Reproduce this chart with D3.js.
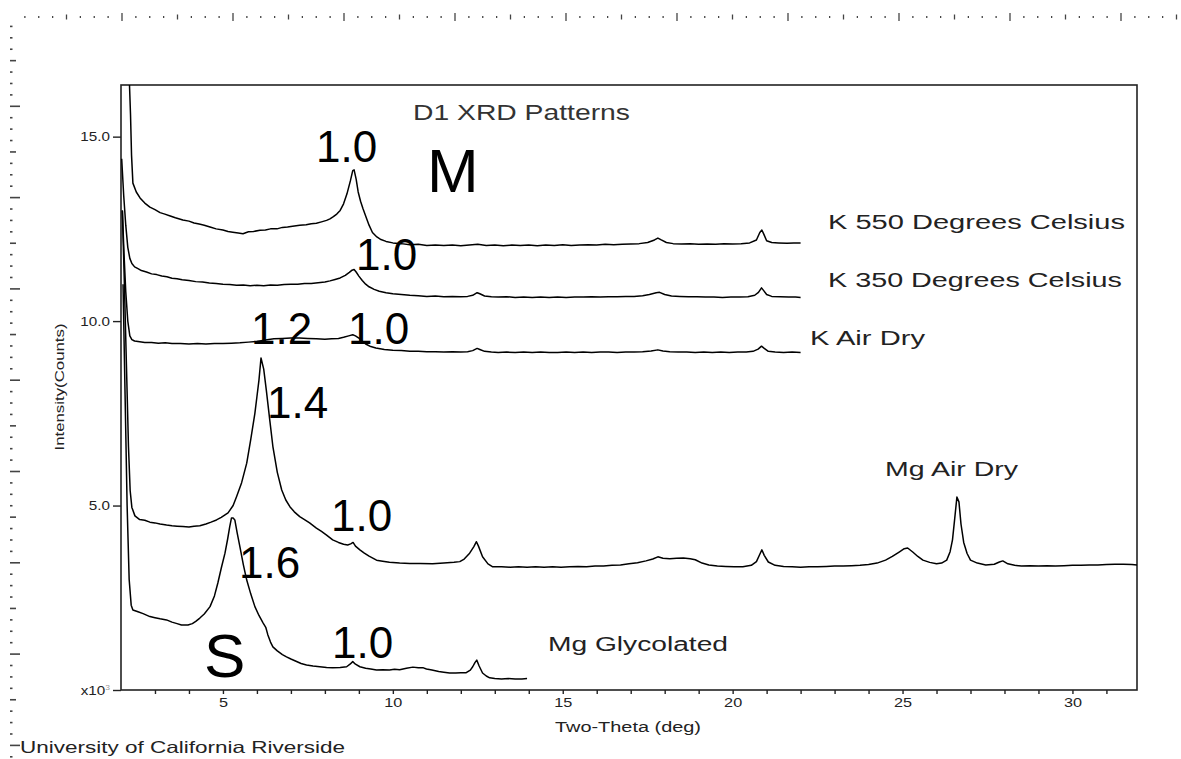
<!DOCTYPE html>
<html>
<head>
<meta charset="utf-8">
<script src="https://cdn.jsdelivr.net/npm/d3@7"></script>
<style>
  body { margin: 0; background: #fff; }
  svg { display: block; font-family: Arial, "Liberation Sans", sans-serif; }
</style>
</head>
<body>
<script>
// --- data: [two-theta (deg), intensity (counts x 10^3)] ---
const k550 = [[2.20,18.0],[2.25,16.4],[2.28,15.6],[2.31,14.5],[2.35,13.74],[2.45,13.5],[2.56,13.34],[2.7,13.2],[2.85,13.09],[3.0,13.02],[3.15,12.94],[3.29,12.9],[3.45,12.85],[3.6,12.8],[3.82,12.74],[4.0,12.71],[4.15,12.66],[4.3,12.63],[4.45,12.6],[4.62,12.55],[4.8,12.5],[5.0,12.47],[5.15,12.43],[5.29,12.41],[5.45,12.39],[5.59,12.37],[5.75,12.42],[5.9,12.43],[6.09,12.46],[6.25,12.47],[6.4,12.5],[6.59,12.5],[6.75,12.54],[6.9,12.55],[7.05,12.57],[7.26,12.6],[7.45,12.61],[7.6,12.64],[7.75,12.65],[7.9,12.69],[8.05,12.73],[8.15,12.77],[8.25,12.83],[8.35,12.9],[8.45,13.0],[8.55,13.18],[8.65,13.45],[8.75,13.8],[8.82,14.08],[8.86,14.1],[8.92,13.85],[8.98,13.5],[9.05,13.25],[9.12,13.05],[9.2,12.85],[9.3,12.6],[9.4,12.4],[9.53,12.28],[9.65,12.21],[9.8,12.16],[10.0,12.12],[10.25,12.1],[10.5,12.07],[10.75,12.08],[11.0,12.05],[11.25,12.06],[11.5,12.05],[11.75,12.06],[12.0,12.04],[12.25,12.06],[12.5,12.08],[12.75,12.05],[13.0,12.06],[13.25,12.04],[13.5,12.06],[13.75,12.05],[14.0,12.06],[14.25,12.04],[14.5,12.06],[14.75,12.05],[15.0,12.07],[15.25,12.05],[15.5,12.06],[15.75,12.07],[16.0,12.06],[16.25,12.08],[16.5,12.07],[16.75,12.08],[17.0,12.09],[17.25,12.1],[17.5,12.13],[17.7,12.2],[17.8,12.25],[17.9,12.2],[18.05,12.13],[18.25,12.1],[18.5,12.09],[18.75,12.1],[19.0,12.08],[19.25,12.09],[19.5,12.08],[19.75,12.1],[20.0,12.09],[20.25,12.1],[20.5,12.12],[20.7,12.2],[20.8,12.4],[20.86,12.47],[20.92,12.35],[21.0,12.18],[21.15,12.13],[21.35,12.12],[21.6,12.11],[21.8,12.12],[22.0,12.12]];

const k350 = [[2.02,14.4],[2.08,13.4],[2.14,12.6],[2.2,12.0],[2.26,11.7],[2.32,11.56],[2.4,11.47],[2.5,11.42],[2.6,11.37],[2.75,11.33],[2.9,11.28],[3.05,11.26],[3.2,11.22],[3.35,11.2],[3.5,11.16],[3.65,11.15],[3.8,11.12],[4.0,11.1],[4.2,11.07],[4.4,11.06],[4.6,11.03],[4.8,11.02],[5.0,11.0],[5.2,10.99],[5.4,10.97],[5.6,10.98],[5.8,10.96],[6.0,10.97],[6.2,10.96],[6.4,10.98],[6.6,10.97],[6.8,10.99],[7.0,11.0],[7.2,11.0],[7.4,11.02],[7.6,11.02],[7.8,11.04],[8.0,11.06],[8.15,11.09],[8.3,11.13],[8.45,11.17],[8.6,11.24],[8.72,11.32],[8.8,11.38],[8.86,11.4],[8.92,11.33],[9.0,11.22],[9.1,11.1],[9.2,11.0],[9.3,10.93],[9.45,10.86],[9.6,10.81],[9.8,10.77],[10.0,10.74],[10.25,10.72],[10.5,10.7],[10.75,10.69],[11.0,10.67],[11.25,10.68],[11.5,10.66],[11.75,10.67],[12.0,10.66],[12.2,10.67],[12.35,10.7],[12.48,10.77],[12.56,10.74],[12.7,10.68],[12.9,10.66],[13.1,10.65],[13.35,10.66],[13.6,10.64],[13.85,10.65],[14.1,10.64],[14.35,10.65],[14.6,10.64],[14.85,10.65],[15.1,10.64],[15.35,10.65],[15.6,10.65],[15.85,10.66],[16.1,10.65],[16.35,10.66],[16.6,10.66],[16.85,10.67],[17.1,10.67],[17.35,10.69],[17.55,10.72],[17.75,10.77],[17.85,10.78],[18.0,10.72],[18.2,10.68],[18.45,10.67],[18.7,10.66],[18.95,10.66],[19.2,10.65],[19.45,10.65],[19.7,10.64],[19.95,10.65],[20.2,10.65],[20.45,10.66],[20.65,10.7],[20.76,10.78],[20.85,10.9],[20.92,10.82],[21.0,10.72],[21.15,10.67],[21.4,10.66],[21.65,10.65],[21.85,10.65],[22.0,10.64]];

const kAirDry = [[2.04,13.0],[2.09,11.8],[2.14,10.8],[2.2,10.0],[2.26,9.6],[2.32,9.5],[2.4,9.46],[2.55,9.44],[2.7,9.42],[2.9,9.42],[3.1,9.4],[3.3,9.41],[3.5,9.39],[3.75,9.39],[4.0,9.38],[4.25,9.39],[4.5,9.38],[4.75,9.39],[5.0,9.39],[5.25,9.4],[5.5,9.41],[5.75,9.43],[6.0,9.45],[6.25,9.49],[6.5,9.52],[6.75,9.53],[7.0,9.54],[7.25,9.54],[7.5,9.53],[7.75,9.52],[8.0,9.51],[8.2,9.52],[8.4,9.53],[8.55,9.56],[8.7,9.6],[8.82,9.63],[8.9,9.6],[9.0,9.54],[9.1,9.45],[9.2,9.38],[9.35,9.31],[9.5,9.27],[9.75,9.23],[10.0,9.21],[10.25,9.2],[10.5,9.18],[10.75,9.18],[11.0,9.17],[11.25,9.17],[11.5,9.16],[11.75,9.17],[12.0,9.16],[12.2,9.17],[12.35,9.2],[12.48,9.26],[12.56,9.23],[12.7,9.18],[12.9,9.16],[13.1,9.15],[13.35,9.16],[13.6,9.15],[13.85,9.16],[14.1,9.15],[14.35,9.16],[14.6,9.15],[14.85,9.15],[15.1,9.16],[15.35,9.15],[15.6,9.16],[15.85,9.15],[16.1,9.16],[16.35,9.16],[16.6,9.15],[16.85,9.16],[17.1,9.16],[17.35,9.17],[17.6,9.19],[17.8,9.22],[17.95,9.19],[18.15,9.17],[18.4,9.16],[18.65,9.16],[18.9,9.15],[19.15,9.16],[19.4,9.15],[19.65,9.16],[19.9,9.15],[20.15,9.16],[20.4,9.16],[20.6,9.18],[20.75,9.24],[20.85,9.32],[20.93,9.26],[21.05,9.18],[21.25,9.16],[21.5,9.15],[21.75,9.16],[22.0,9.15]];

const mgAirDry = [[2.04,13.0],[2.1,11.0],[2.16,8.8],[2.22,6.6],[2.27,5.4],[2.32,4.95],[2.41,4.72],[2.55,4.62],[2.7,4.6],[2.85,4.55],[3.0,4.53],[3.15,4.5],[3.34,4.47],[3.5,4.45],[3.65,4.44],[3.82,4.43],[4.0,4.42],[4.15,4.44],[4.32,4.45],[4.5,4.5],[4.65,4.55],[4.81,4.61],[4.95,4.68],[5.05,4.74],[5.15,4.8],[5.3,5.0],[5.4,5.24],[5.55,5.62],[5.7,6.15],[5.82,6.8],[5.94,7.5],[6.0,7.95],[6.06,8.4],[6.12,9.0],[6.2,8.7],[6.28,8.1],[6.38,7.3],[6.47,6.6],[6.6,5.9],[6.73,5.42],[6.85,5.15],[6.97,4.97],[7.1,4.83],[7.26,4.7],[7.4,4.62],[7.55,4.53],[7.75,4.39],[7.9,4.3],[8.05,4.2],[8.23,4.07],[8.4,4.0],[8.55,3.95],[8.67,3.93],[8.76,3.96],[8.83,4.0],[8.9,3.9],[9.03,3.8],[9.15,3.72],[9.3,3.63],[9.52,3.52],[9.7,3.49],[9.9,3.46],[10.2,3.44],[10.5,3.43],[10.8,3.43],[11.17,3.42],[11.5,3.44],[11.8,3.46],[11.97,3.48],[12.1,3.55],[12.26,3.71],[12.38,3.88],[12.46,4.02],[12.52,3.9],[12.64,3.61],[12.8,3.42],[12.94,3.34],[13.2,3.34],[13.45,3.33],[13.7,3.34],[13.95,3.33],[14.2,3.34],[14.45,3.33],[14.7,3.34],[14.95,3.33],[15.2,3.34],[15.45,3.35],[15.7,3.34],[15.95,3.36],[16.2,3.36],[16.45,3.38],[16.7,3.39],[16.95,3.42],[17.2,3.45],[17.45,3.5],[17.65,3.55],[17.8,3.61],[17.95,3.57],[18.15,3.56],[18.35,3.57],[18.55,3.58],[18.75,3.56],[18.9,3.53],[19.1,3.44],[19.3,3.39],[19.55,3.36],[19.8,3.35],[20.05,3.34],[20.3,3.34],[20.55,3.38],[20.7,3.48],[20.8,3.68],[20.86,3.8],[20.93,3.65],[21.05,3.47],[21.25,3.38],[21.5,3.35],[21.75,3.34],[22.0,3.33],[22.25,3.34],[22.5,3.34],[22.75,3.35],[23.0,3.36],[23.25,3.36],[23.5,3.37],[23.75,3.38],[24.0,3.4],[24.25,3.44],[24.5,3.52],[24.7,3.62],[24.9,3.74],[25.05,3.83],[25.15,3.85],[25.3,3.74],[25.45,3.62],[25.6,3.52],[25.8,3.46],[26.0,3.42],[26.15,3.44],[26.3,3.52],[26.4,3.75],[26.47,4.07],[26.53,4.6],[26.6,5.23],[26.66,5.1],[26.72,4.5],[26.8,4.0],[26.9,3.7],[27.0,3.52],[27.2,3.44],[27.45,3.39],[27.7,3.41],[27.85,3.47],[27.95,3.5],[28.1,3.42],[28.3,3.38],[28.5,3.36],[28.75,3.37],[29.0,3.36],[29.25,3.37],[29.5,3.36],[29.75,3.37],[30.0,3.38],[30.25,3.38],[30.5,3.39],[30.75,3.39],[31.0,3.4],[31.25,3.41],[31.5,3.41],[31.75,3.4],[31.9,3.39]];

const mgGlycolated = [[2.06,11.0],[2.12,8.0],[2.18,5.0],[2.24,3.0],[2.3,2.3],[2.35,2.17],[2.5,2.12],[2.65,2.07],[2.85,1.99],[3.0,1.96],[3.15,1.93],[3.34,1.9],[3.5,1.84],[3.65,1.8],[3.78,1.76],[3.97,1.76],[4.1,1.8],[4.2,1.86],[4.32,1.95],[4.45,2.06],[4.62,2.26],[4.75,2.55],[4.85,2.9],[4.95,3.3],[5.06,3.71],[5.14,4.1],[5.2,4.43],[5.25,4.66],[5.3,4.66],[5.35,4.61],[5.42,4.25],[5.5,3.88],[5.6,3.4],[5.7,2.98],[5.82,2.6],[5.94,2.26],[6.06,2.02],[6.18,1.82],[6.26,1.7],[6.32,1.5],[6.4,1.3],[6.47,1.17],[6.6,1.06],[6.75,0.96],[6.87,0.9],[7.0,0.84],[7.15,0.78],[7.3,0.72],[7.46,0.68],[7.65,0.65],[7.85,0.63],[8.05,0.61],[8.23,0.6],[8.45,0.61],[8.64,0.63],[8.74,0.7],[8.82,0.77],[8.9,0.7],[9.03,0.63],[9.2,0.59],[9.35,0.57],[9.52,0.54],[9.7,0.55],[9.9,0.54],[10.05,0.56],[10.2,0.55],[10.4,0.59],[10.59,0.62],[10.75,0.6],[10.9,0.6],[10.99,0.57],[11.15,0.54],[11.35,0.5],[11.5,0.48],[11.67,0.46],[11.85,0.46],[12.0,0.47],[12.16,0.47],[12.28,0.54],[12.35,0.63],[12.42,0.75],[12.47,0.81],[12.54,0.65],[12.64,0.46],[12.75,0.38],[12.85,0.33],[13.0,0.31],[13.2,0.3],[13.4,0.31],[13.6,0.3],[13.8,0.3],[13.95,0.31]];

const series = [k550, k350, kAirDry, mgAirDry, mgGlycolated];
const seriesNames = ["K 550 Degrees Celsius", "K 350 Degrees Celsius", "K Air Dry", "Mg Air Dry", "Mg Glycolated"];

const xTicks = d3.range(3, 32);           // a tick every degree
const xLabelTicks = [5, 10, 15, 20, 25, 30];
const yTicks = [0, 5, 10, 15];
const yTickLabels = ["x10", "5.0", "10.0", "15.0"];

// hand-written peak notes (d-spacing in nm) and clay names
const peakNotes = ["1.0", "M", "1.0", "1.2", "1.0", "1.4", "1.0", "1.6", "S", "1.0"];

const width = 1181, height = 759;
const margin = {left: 121, top: 85, right: 1137, bottom: 690};

const x = d3.scaleLinear().domain([2, 31.9]).range([margin.left, margin.right]);
const y = d3.scaleLinear().domain([0, 16.4]).range([margin.bottom, margin.top]);

const svg = d3.select("body").append("svg")
    .attr("width", width)
    .attr("height", height);

// ---- rulers round the window (top and left) ----
const topRuler = svg.append("g").attr("stroke", "#444").attr("stroke-width", 1.3);
const topStep = 111 / 8;
for (let i = 0, px = 122 - 7 * topStep; px < width; i++, px += topStep) {
    const k = i + 1; // index relative to the 122 major
    const len = k % 8 === 0 ? 8 : (k % 4 === 0 ? 5 : 2);
    topRuler.append("line")
        .attr("x1", px).attr("x2", px)
        .attr("y1", 17 - len / 2).attr("y2", 17 + len / 2);
}
const leftRuler = svg.append("g").attr("stroke", "#444").attr("stroke-width", 1.6);
const leftStep = 91.3 / 8;
for (let py = 15 + leftStep, i = 1; py < height; py += leftStep, i++) {
    const len = i % 8 === 0 ? 10 : (i % 4 === 0 ? 6 : 2.5);
    leftRuler.append("line")
        .attr("x1", 10).attr("x2", 10 + len)
        .attr("y1", py).attr("y2", py);
}

// ---- plot frame ----
svg.append("rect")
    .attr("x", margin.left).attr("y", margin.top)
    .attr("width", margin.right - margin.left)
    .attr("height", margin.bottom - margin.top)
    .attr("fill", "none")
    .attr("stroke", "#222")
    .attr("stroke-width", 1.6);

svg.append("clipPath").attr("id", "plot")
  .append("rect")
    .attr("x", margin.left).attr("y", margin.top)
    .attr("width", margin.right - margin.left)
    .attr("height", margin.bottom - margin.top);

// ---- axes ----
const xAxis = svg.append("g")
    .attr("transform", `translate(0,${margin.bottom})`)
    .call(d3.axisBottom(x).tickValues(xTicks).tickSize(4)
        .tickFormat(d => xLabelTicks.includes(d) ? d : ""));
xAxis.select(".domain").remove();
xAxis.selectAll(".tick line").attr("stroke", "#222").attr("stroke-width", 1.4);
xAxis.selectAll(".tick text")
    .attr("font-size", 12.5).attr("fill", "#222")
    .attr("font-family", "Arial, 'Liberation Sans', sans-serif")
    .attr("y", 8)
    .attr("transform", "scale(1.3,1)");

const yAxis = svg.append("g")
    .attr("transform", `translate(${margin.left},0)`)
    .call(d3.axisLeft(y).tickValues(yTicks).tickSize(8)
        .tickFormat((d, i) => yTickLabels[i]));
yAxis.select(".domain").remove();
yAxis.selectAll(".tick line").attr("stroke", "#222").attr("stroke-width", 1.4);
yAxis.selectAll(".tick text")
    .attr("font-size", 12.5).attr("fill", "#222")
    .attr("font-family", "Arial, 'Liberation Sans', sans-serif")
    .attr("x", -11 / 1.22)
    .attr("transform", "scale(1.22,1)");
yAxis.selectAll(".tick text").filter(d => d === 0)
  .append("tspan")
    .attr("dy", -5)
    .attr("font-size", 7)
    .attr("fill", "#999")
    .text("3");

// axis titles
svg.append("text")
    .attr("transform", "translate(64,387) rotate(-90)")
    .attr("text-anchor", "middle")
    .attr("font-size", 13)
    .attr("fill", "#222")
    .attr("textLength", 127).attr("lengthAdjust", "spacingAndGlyphs")
    .text("Intensity(Counts)");

svg.append("text")
    .attr("x", 555).attr("y", 732)
    .attr("font-size", 14)
    .attr("fill", "#222")
    .attr("textLength", 146).attr("lengthAdjust", "spacingAndGlyphs")
    .text("Two-Theta (deg)");

svg.append("text")
    .attr("x", 413).attr("y", 120)
    .attr("font-size", 22)
    .attr("fill", "#333")
    .attr("textLength", 217).attr("lengthAdjust", "spacingAndGlyphs")
    .text("D1 XRD Patterns");

svg.append("text")
    .attr("x", 20).attr("y", 753)
    .attr("font-size", 16.5)
    .attr("fill", "#222")
    .attr("textLength", 325).attr("lengthAdjust", "spacingAndGlyphs")
    .text("University of California Riverside");

// ---- patterns ----
const line = d3.line().x(d => x(d[0])).y(d => y(d[1]));
svg.append("g")
    .attr("clip-path", "url(#plot)")
  .selectAll("path")
  .data(series)
  .join("path")
    .attr("fill", "none")
    .attr("stroke", "#000")
    .attr("stroke-width", 1.5)
    .attr("stroke-linejoin", "round")
    .attr("d", line);

// series labels: [x start, baseline, length]
const seriesLabelPos = [[828, 229, 297], [828, 287, 294], [810, 345, 115], [885, 476, 133], [548, 651, 180]];
svg.append("g")
  .selectAll("text")
  .data(seriesNames)
  .join("text")
    .attr("x", (d, i) => seriesLabelPos[i][0])
    .attr("y", (d, i) => seriesLabelPos[i][1])
    .attr("font-size", 20)
    .attr("fill", "#222")
    .attr("textLength", (d, i) => seriesLabelPos[i][2])
    .attr("lengthAdjust", "spacingAndGlyphs")
    .text(d => d);

// big hand annotations: [x, baseline, size]
const notePos = [[316, 162, 44], [427, 192, 62], [356, 270, 44], [251, 344, 44], [348, 344, 44],
                 [267, 418, 44], [331, 531, 44], [239, 578, 44], [204, 677, 62], [332, 658, 44]];
svg.append("g")
  .selectAll("text")
  .data(peakNotes)
  .join("text")
    .attr("x", (d, i) => notePos[i][0])
    .attr("y", (d, i) => notePos[i][1])
    .attr("font-size", (d, i) => notePos[i][2])
    .attr("fill", "#000")
    .text(d => d);
</script>
</body>
</html>
